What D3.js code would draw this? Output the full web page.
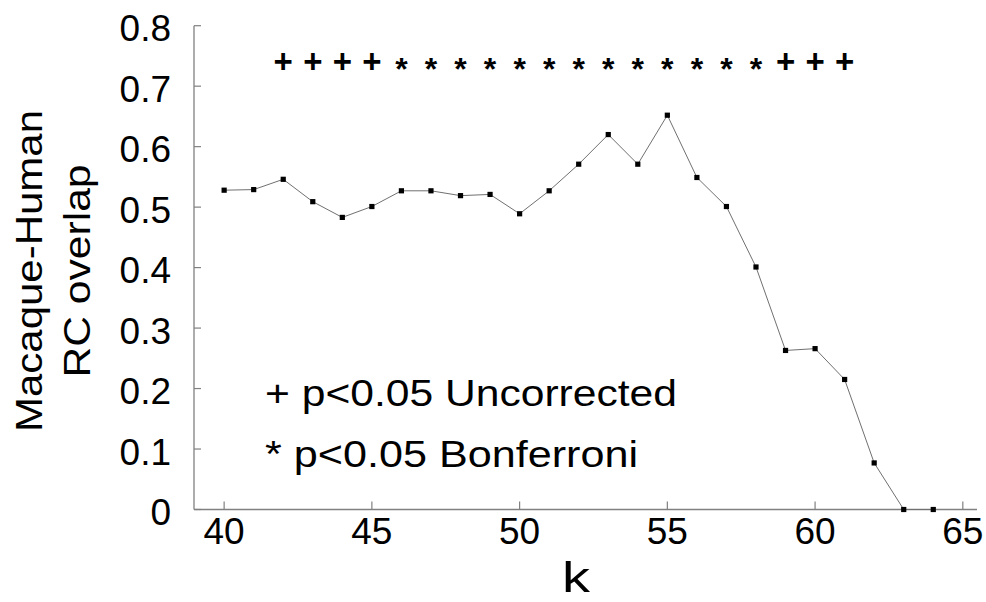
<!DOCTYPE html>
<html>
<head>
<meta charset="utf-8">
<script src="https://cdn.jsdelivr.net/npm/d3@7"></script>
<style>
  html, body { margin: 0; padding: 0; background: #fff; }
  svg { display: block; font-family: "Liberation Sans", Arial, sans-serif; }
</style>
</head>
<body>
<svg id="chart" width="986" height="602"></svg>
<script>
// ---- data ----
const kValues = [40,41,42,43,44,45,46,47,48,49,50,51,52,53,54,55,56,57,58,59,60,61,62,63,64];
const overlap = [0.528,0.529,0.546,0.509,0.483,0.501,0.527,0.527,0.519,0.521,0.489,0.527,0.571,0.620,0.571,0.652,0.549,0.501,0.401,0.263,0.266,0.215,0.077,0,0];
const sigK = [42,43,44,45,46,47,48,49,50,51,52,53,54,55,56,57,58,59,60,61];
const sigMark = ["+","+","+","+","*","*","*","*","*","*","*","*","*","*","*","*","*","+","+","+"];
const xTicks = [40,45,50,55,60,65];
const yTicks = [0,0.1,0.2,0.3,0.4,0.5,0.6,0.7,0.8];
const legendLines = ["+ p<0.05 Uncorrected", "* p<0.05 Bonferroni"];
const xTitle = "k";
const yTitleLines = ["Macaque-Human", "RC overlap"];

// ---- layout ----
const svg = d3.select("#chart");
const x = d3.scaleLinear().domain([38.98, 65.48]).range([194, 977]);
const y = d3.scaleLinear().domain([0, 0.8]).range([509.5, 25.7]);
const axisColor = "#808080";

const g = svg.append("g");
g.append("line").attr("x1", x.range()[0]).attr("x2", x.range()[1])
  .attr("y1", y(0)).attr("y2", y(0)).attr("stroke", axisColor).attr("stroke-width", 1.3);
g.append("line").attr("x1", x.range()[0]).attr("x2", x.range()[0])
  .attr("y1", y(0)).attr("y2", y(0.8)).attr("stroke", axisColor).attr("stroke-width", 1.3);

// y ticks (inward)
g.selectAll(".yt").data(yTicks).join("line")
  .attr("x1", x.range()[0]).attr("x2", x.range()[0] + 7)
  .attr("y1", d => y(d)).attr("y2", d => y(d))
  .attr("stroke", axisColor).attr("stroke-width", 1.2);
g.selectAll(".yl").data(yTicks).join("text")
  .attr("x", 171).attr("y", d => y(d) + 3)
  .attr("text-anchor", "end").attr("dominant-baseline", "central")
  .attr("font-size", 37).attr("fill", "#000")
  .text(d => d === 0 ? "0" : d3.format(".1f")(d));

// x ticks (inward)
g.selectAll(".xt").data(xTicks).join("line")
  .attr("x1", d => x(d)).attr("x2", d => x(d))
  .attr("y1", y(0)).attr("y2", y(0) - 8)
  .attr("stroke", axisColor).attr("stroke-width", 1.2);
g.selectAll(".xl").data(xTicks).join("text")
  .attr("x", d => x(d)).attr("y", 544)
  .attr("text-anchor", "middle")
  .attr("font-size", 37).attr("fill", "#000")
  .text(d => d);

// titles
svg.append("text").attr("x", 576).attr("y", 592).attr("text-anchor", "middle")
  .attr("font-size", 42).attr("textLength", 28).attr("lengthAdjust", "spacingAndGlyphs")
  .text(xTitle);
const yTitlePos = [{bx: 42, len: 322}, {bx: 90, len: 213}];
yTitleLines.forEach((t, i) => {
  svg.append("text")
    .attr("transform", `translate(${yTitlePos[i].bx},271) rotate(-90)`)
    .attr("text-anchor", "middle").attr("font-size", 37)
    .attr("textLength", yTitlePos[i].len).attr("lengthAdjust", "spacingAndGlyphs")
    .text(t);
});

// line
const line = d3.line().x((d, i) => x(kValues[i])).y(d => y(d));
svg.append("path").datum(overlap).attr("d", line)
  .attr("fill", "none").attr("stroke", "#707070").attr("stroke-width", 1);

// markers
svg.selectAll(".pt").data(overlap).join("rect")
  .attr("x", (d, i) => x(kValues[i]) - 2.6).attr("y", d => y(d) - 2.6)
  .attr("width", 5.2).attr("height", 5.2).attr("fill", "#000");

// significance marks
svg.selectAll(".sig").data(sigK).join("text")
  .attr("x", d => x(d)).attr("y", (d, i) => sigMark[i] === "+" ? 73 : 80)
  .attr("text-anchor", "middle")
  .attr("font-weight", "bold")
  .attr("font-size", (d, i) => sigMark[i] === "+" ? 33 : 32)
  .text((d, i) => sigMark[i]);

// legend text
const legendLen = [412, 373];
svg.selectAll(".leg").data(legendLines).join("text")
  .attr("x", 265).attr("y", (d, i) => 406 + i * 61)
  .attr("font-size", 37).attr("fill", "#000")
  .attr("textLength", (d, i) => legendLen[i]).attr("lengthAdjust", "spacingAndGlyphs")
  .text(d => d);
</script>
</body>
</html>
